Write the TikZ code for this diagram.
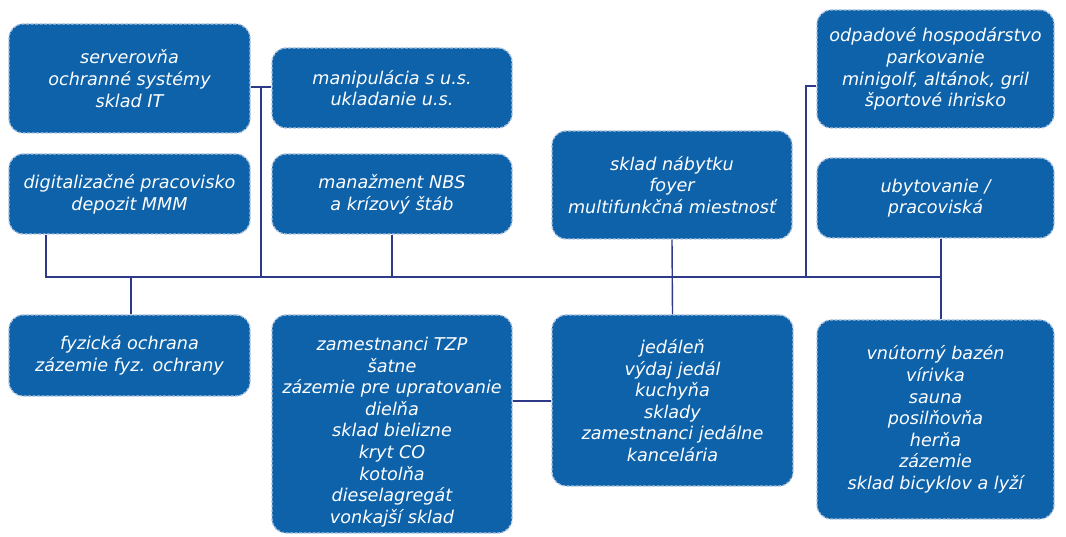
\documentclass[tikz,border=0pt]{standalone}
\usepackage{fontspec}
\setmainfont{DejaVu Sans}
\definecolor{boxfill}{HTML}{0D62AA}
\definecolor{boxline}{HTML}{A9C2E0}
\definecolor{conn}{HTML}{2E3A87}
\tikzset{
  roomtext/.style={text=white, align=center, inner sep=0pt,
    font=\fontsize{17.6bp}{21.6bp}\selectfont\itshape},
  room/.style={roomtext, rectangle, rounded corners=14bp, fill=boxfill, draw=boxline,
    line width=1.3bp, dash pattern=on 3bp off 1.5bp},
  link/.style={draw=conn, line width=1.4bp}
}
\begin{document}
\begin{tikzpicture}[x=1bp,y=-1bp]
\useasboundingbox (0,0) rectangle (1066,537);
\fill[white] (0,0) rectangle (1066,537);
% top row
\node[room, minimum width=241bp, minimum height=109bp] (A) at (129.5,78.5) {serverovňa\\ochranné systémy\\sklad IT};
\node[room, minimum width=240bp, minimum height=80bp] (B) at (392,88) {manipulácia s u.s.\\ukladanie u.s.};
\node[room, minimum width=241bp, minimum height=80bp] (C) at (129.5,194) {digitalizačné pracovisko\\depozit MMM};
\node[room, minimum width=240bp, minimum height=80bp] (D) at (392,194) {manažment NBS\\a krízový štáb};
\node[room, minimum width=240bp, minimum height=108bp] (E) at (672,185) {sklad nábytku\\foyer\\multifunkčná miestnosť};
\node[room, minimum width=237bp, minimum height=118bp] (F) at (935.5,69) {odpadové hospodárstvo\\parkovanie\\minigolf, altánok, gril\\športové ihrisko};
\node[room, minimum width=237bp, minimum height=80bp] (G) at (935.5,198) {ubytovanie /\\pracoviská};
% bottom row
\node[room, minimum width=241bp, minimum height=81bp] (H) at (129.5,355.5) {fyzická ochrana\\zázemie fyz. ochrany};
\node[room, minimum width=240bp, minimum height=218bp] (I) at (392,424) {};
\node[roomtext] (Itext) at (392,432) {zamestnanci TZP\\šatne\\zázemie pre upratovanie\\dielňa\\sklad bielizne\\kryt CO\\kotolňa\\dieselagregát\\vonkajší sklad};
\node[room, minimum width=241bp, minimum height=171bp] (J) at (672.5,400.5) {jedáleň\\výdaj jedál\\kuchyňa\\sklady\\zamestnanci jedálne\\kancelária};
\node[room, minimum width=237bp, minimum height=199bp] (K) at (935.5,419.5) {vnútorný bazén\\vírivka\\sauna\\posilňovňa\\herňa\\zázemie\\sklad bicyklov a lyží};
% junction coordinates
\coordinate (busL) at (46,277);
\coordinate (busR) at (941,277);
\coordinate (abj) at (261,87);
\coordinate (fj) at (806,86);
\coordinate (ij) at (530,401);
% connectors
\draw[link] (C.south -| busL) -- (busL) -- (busR);
\draw[link] (A.east |- abj) -- (B.west |- abj);
\draw[link] (abj) -- (abj |- busL);
\draw[link] (D.south) -- (D.south |- busL);
\draw[link] (E.south) -- (J.north);
\draw[link] (F.west |- fj) -- (fj) -- (fj |- busL);
\draw[link] (G.south -| busR) -- (K.north -| busR);
\draw[link] (H.north -| 131,0) -- (busL -| 131,0);
\draw[link] (I.east |- ij) -- (J.west |- ij);
\end{tikzpicture}
\end{document}
